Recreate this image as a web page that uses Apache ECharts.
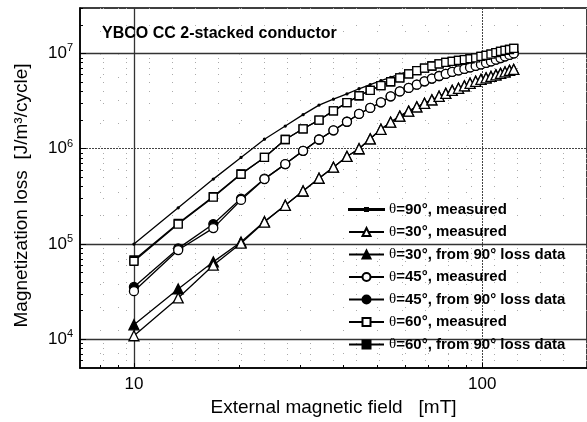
<!DOCTYPE html>
<html><head><meta charset="utf-8">
<script src="https://cdn.jsdelivr.net/npm/echarts@6/dist/echarts.min.js"></script>
<style>html,body{margin:0;padding:0;background:#fff}#c{width:587px;height:422px}</style>
</head><body><div id="c"></div>
<script>
const field = [10, 13.4, 16.9, 20.3, 23.7, 27.2, 30.6, 34.0, 37.4, 40.9, 44.3, 47.7, 51.2, 54.6, 58.0, 61.5, 64.9, 68.3, 71.7, 75.2, 78.6, 82.0, 85.5, 88.9, 92.3, 95.8, 99.2, 102.6, 106.0, 109.5, 112.9, 116.3, 119.8, 123.2];
const loss90 = [1.0e5, 2.4e5, 4.8e5, 8.1e5, 1.26e6, 1.73e6, 2.28e6, 2.87e6, 3.31e6, 3.76e6, 4.26e6, 4.71e6, 5.19e6, 5.62e6, 6.1e6, 6.48e6, 6.84e6, 7.2e6, 7.54e6, 7.85e6, 8.1e6, 8.35e6, 8.6e6, 8.8e6, 9.0e6, 9.25e6, 9.5e6, 9.75e6, 1.0e7, 1.03e7, 1.06e7, 1.08e7, 1.11e7, 1.14e7];
const loss30 = [1.09e4, 2.72e4, 6.0e4, 1.02e5, 1.7e5, 2.55e5, 3.6e5, 4.9e5, 6.4e5, 8.3e5, 1.0e6, 1.27e6, 1.6e6, 1.9e6, 2.2e6, 2.48e6, 2.75e6, 3.0e6, 3.26e6, 3.55e6, 3.81e6, 4.1e6, 4.31e6, 4.57e6, 4.86e6, 5.1e6, 5.35e6, 5.54e6, 5.74e6, 5.96e6, 6.18e6, 6.4e6, 6.64e6, 6.8e6];
const calc30 = [1.42e4, 3.38e4, 6.5e4, 1.05e5, 1.72e5, 2.55e5, 3.6e5, 4.9e5, 6.4e5, 8.3e5, 1.0e6, 1.27e6, 1.6e6, 1.9e6, 2.2e6, 2.48e6, 2.75e6, 3.0e6, 3.26e6, 3.55e6, 3.81e6, 4.1e6, 4.31e6, 4.57e6, 4.86e6, 5.1e6, 5.35e6, 5.54e6, 5.74e6, 5.96e6, 6.18e6, 6.4e6, 6.64e6, 6.8e6];
const loss45 = [3.2e4, 8.65e4, 1.47e5, 2.9e5, 4.8e5, 6.9e5, 9.5e5, 1.25e6, 1.56e6, 1.92e6, 2.32e6, 2.68e6, 3.07e6, 3.55e6, 4.0e6, 4.35e6, 4.7e6, 5.1e6, 5.45e6, 5.8e6, 6.1e6, 6.4e6, 6.64e6, 6.89e6, 7.14e6, 7.4e6, 7.67e6, 7.96e6, 8.25e6, 8.6e6, 8.95e6, 9.3e6, 9.65e6, 1.0e7];
const calc45 = [3.55e4, 9.0e4, 1.62e5, 3.0e5, 4.85e5, 6.9e5, 9.5e5, 1.25e6, 1.56e6, 1.92e6, 2.32e6, 2.68e6, 3.07e6, 3.55e6, 4.0e6, 4.35e6, 4.7e6, 5.1e6, 5.45e6, 5.8e6, 6.1e6, 6.4e6, 6.64e6, 6.89e6, 7.14e6, 7.4e6, 7.67e6, 7.96e6, 8.25e6, 8.6e6, 8.95e6, 9.3e6, 9.65e6, 1.0e7];
const loss60 = [6.6e4, 1.62e5, 3.1e5, 5.4e5, 8.1e5, 1.25e6, 1.62e6, 2.0e6, 2.5e6, 3.05e6, 3.6e6, 4.1e6, 4.6e6, 5.05e6, 5.55e6, 6.1e6, 6.6e6, 7.0e6, 7.39e6, 7.76e6, 8.05e6, 8.25e6, 8.45e6, 8.6e6, 8.8e6, 9.0e6, 9.3e6, 9.55e6, 9.85e6, 1.02e7, 1.05e7, 1.08e7, 1.10e7, 1.13e7];
const calc60 = [6.8e4, 1.65e5, 3.15e5, 5.45e5, 8.1e5, 1.25e6, 1.62e6, 2.0e6, 2.5e6, 3.05e6, 3.6e6, 4.1e6, 4.6e6, 5.05e6, 5.55e6, 6.1e6, 6.6e6, 7.0e6, 7.39e6, 7.76e6, 8.05e6, 8.25e6, 8.45e6, 8.6e6, 8.8e6, 9.0e6, 9.3e6, 9.55e6, 9.85e6, 1.02e7, 1.05e7, 1.08e7, 1.10e7, 1.13e7];

const xLabelValues = [10, 100];
const xGridSolid = [10];
const xGridDotted = [100];
const xMinor = [8, 9, 20, 30, 40, 50, 60, 70, 80, 90, 200];
const yLabelValues = [1e4, 1e5, 1e6, 1e7];
const yGridSolid = [1e4, 1e5, 1e7];
const yGridDotted = [1e6];
const yMinor = [6e3, 7e3, 8e3, 9e3, 2e4, 3e4, 4e4, 5e4, 6e4, 7e4, 8e4, 9e4, 2e5, 3e5, 4e5, 5e5, 6e5, 7e5, 8e5, 9e5, 2e6, 3e6, 4e6, 5e6, 6e6, 7e6, 8e6, 9e6, 2e7, 3e7];

const FONT = "'Liberation Sans', Arial, sans-serif";
const names = ['θ=90°, measured', 'θ=30°, measured', 'θ=30°, from 90° loss data', 'θ=45°, measured', 'θ=45°, from 90° loss data', 'θ=60°, measured', 'θ=60°, from 90° loss data'];

const pts = arr => field.map((x, i) => [x, arr[i]]);
const X = {type: 'log', min: 7, max: 200, position: 'bottom'};
const Y = {type: 'log', min: 5e3, max: 3e7, position: 'left'};

function mk(name, arr, symbol, size, filled, z) {
  return {
    name, type: 'line', data: pts(arr), symbol, symbolSize: size, z,
    showAllSymbol: true, animation: false,
    lineStyle: {color: '#000', width: 1.3},
    itemStyle: {color: filled ? '#000' : '#fff', borderColor: '#000', borderWidth: 1.3}
  };
}

const legendData = names.map((n, i) => i === 0
  ? {name: n, icon: 'path://M0,4.5H35V5.5H0Z M16,3.5H19V6.5H16Z'}
  : {name: n});

const chart = echarts.init(document.getElementById('c'), null, {renderer: 'canvas'});
chart.setOption({
  animation: false,
  backgroundColor: '#fff',
  title: {text: 'YBCO CC 2-stacked conductor', left: 97, top: 21,
    textStyle: {fontFamily: FONT, fontSize: 16, fontWeight: 'bold', color: '#000'}},
  grid: {left: 80, top: 8, right: -3, bottom: 54, show: true, borderColor: '#000', borderWidth: 1.5, backgroundColor: 'transparent'},
  legend: {
    orient: 'vertical', left: 343, top: 197, itemWidth: 35, itemHeight: 10, itemGap: 7.5,
    data: legendData,
    formatter: n => '{t|θ}' + n.slice(1),
    textStyle: {fontFamily: FONT, fontSize: 15, lineHeight: 15, fontWeight: 'bold', color: '#000',
      rich: {t: {fontFamily: "'Liberation Serif', serif", fontSize: 15, lineHeight: 15, fontWeight: 'normal', color: '#000'}}}
  },
  xAxis: [
    Object.assign({}, X, {
      name: 'External magnetic field   [mT]', nameLocation: 'middle', nameGap: 21,
      nameTextStyle: {fontFamily: FONT, fontSize: 19, color: '#000'},
      axisLine: {show: true, lineStyle: {color: '#000', width: 1.5}},
      axisTick: {show: true, inside: true, length: 5, customValues: xGridSolid, lineStyle: {color: '#000'}},
      axisLabel: {customValues: xLabelValues, fontFamily: FONT, fontSize: 17, color: '#000', margin: 8, formatter: v => String(Math.round(v))},
      splitLine: {show: true, lineStyle: {color: '#333', width: 1.3, type: 'solid'}}
    }),
    Object.assign({}, X, {
      axisLine: {show: false},
      axisTick: {show: true, inside: true, length: 5, customValues: xGridDotted, lineStyle: {color: '#000'}},
      axisLabel: {show: false},
      splitLine: {show: true, lineStyle: {color: '#444', width: 1, type: [2, 1]}}
    }),
    Object.assign({}, X, {
      axisLine: {show: false},
      axisTick: {show: true, inside: true, length: 3, customValues: xMinor, lineStyle: {color: '#000'}},
      axisLabel: {show: false},
      splitLine: {show: true, lineStyle: {color: '#aaa', width: 1, type: [1, 22]}}
    })
  ],
  yAxis: [
    Object.assign({}, Y, {
      name: 'Magnetization loss  [J/m³/cycle]', nameLocation: 'middle', nameGap: 49,
      nameTextStyle: {fontFamily: FONT, fontSize: 19, color: '#000', padding: [0, 15, 0, 0]},
      axisLine: {show: true, lineStyle: {color: '#000', width: 1.5}},
      axisTick: {show: true, inside: true, length: 6, customValues: yGridSolid, lineStyle: {color: '#000'}},
      axisLabel: {customValues: yLabelValues, margin: 7, color: '#000',
        formatter: v => '{b|10}{s|' + Math.round(Math.log10(v)) + '}',
        rich: {b: {fontFamily: FONT, fontSize: 17, color: '#000'},
               s: {fontFamily: FONT, fontSize: 11, color: '#000', verticalAlign: 'top', padding: [0, 0, 10, 0]}}},
      splitLine: {show: true, lineStyle: {color: '#333', width: 1.3, type: 'solid'}}
    }),
    Object.assign({}, Y, {
      axisLine: {show: false},
      axisTick: {show: true, inside: true, length: 6, customValues: yGridDotted, lineStyle: {color: '#000'}},
      axisLabel: {show: false},
      splitLine: {show: true, lineStyle: {color: '#444', width: 1, type: [2, 1]}}
    }),
    Object.assign({}, Y, {
      axisLine: {show: false},
      axisTick: {show: true, inside: true, length: 3, customValues: yMinor, lineStyle: {color: '#000'}},
      axisLabel: {show: false},
      splitLine: {show: true, lineStyle: {color: '#aaa', width: 1, type: [1, 22]}}
    })
  ],
  series: [
    mk(names[2], calc30, 'triangle', 10, true, 2),
    mk(names[4], calc45, 'circle', 9, true, 2),
    mk(names[6], calc60, 'rect', 8, true, 2),
    mk(names[0], loss90, 'circle', 2, true, 3),
    mk(names[1], loss30, 'triangle', 10, false, 4),
    mk(names[3], loss45, 'circle', 9, false, 4),
    mk(names[5], loss60, 'rect', 8, false, 4)
  ]
});
</script></body></html>
